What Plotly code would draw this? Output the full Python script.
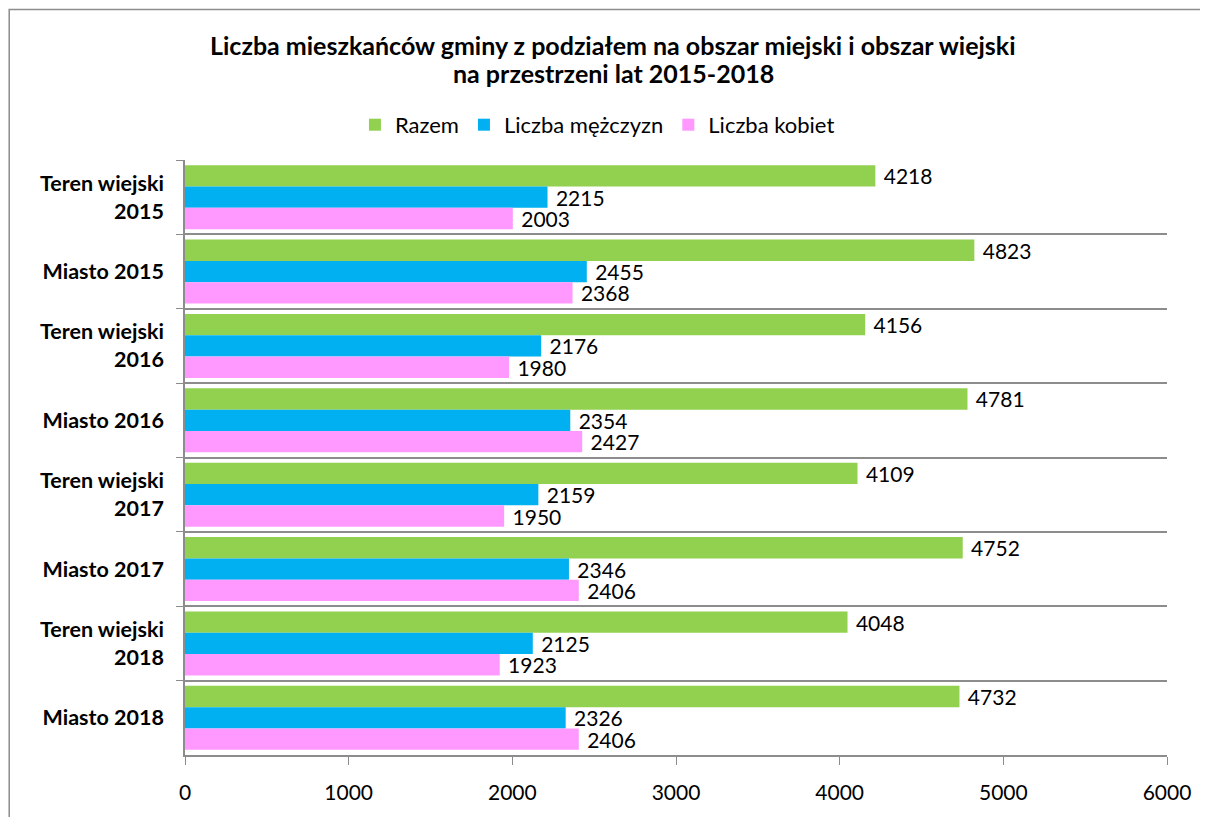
import plotly.graph_objects as go

categories = ["Teren wiejski<br>2015", "Miasto 2015", "Teren wiejski<br>2016", "Miasto 2016",
              "Teren wiejski<br>2017", "Miasto 2017", "Teren wiejski<br>2018", "Miasto 2018"]
razem = [4218, 4823, 4156, 4781, 4109, 4752, 4048, 4732]
mezczyzni = [2215, 2455, 2176, 2354, 2159, 2346, 2125, 2326]
kobiety = [2003, 2368, 1980, 2427, 1950, 2406, 1923, 2406]

title_lines = ["Liczba mieszkańców gminy z podziałem na obszar miejski i obszar wiejski",
               "na przestrzeni lat 2015-2018"]

series = [
    ("Razem", razem, "#92D050"),
    ("Liczba mężczyzn", mezczyzni, "#00B0F0"),
    ("Liczba kobiet", kobiety, "#FF99FF"),
]

font = "Lato, 'Open Sans', sans-serif"
grey = "#8C8C8C"

fig = go.Figure()
for name, vals, col in series:
    fig.add_bar(
        y=categories, x=vals, name=name, orientation="h",
        marker=dict(color=col, line=dict(width=0)),
        text=["\u00a0" + str(v) for v in vals], textposition="outside",
        textfont=dict(size=21, color="black", family=font),
        constraintext="none", cliponaxis=False,
    )

# page has an 8px body margin, so the figure is a bit smaller than the window
fig.update_layout(
    width=1192, height=809,
    barmode="group", bargap=0.14, bargroupgap=0,
    paper_bgcolor="white", plot_bgcolor="white",
    margin=dict(l=177, r=33, t=152, b=62),
    font=dict(family=font, size=20, color="black"),
    legend=dict(
        orientation="h", x=0.42, xanchor="center", y=1.059, yanchor="middle",
        font=dict(size=22, family=font), itemwidth=30,
    ),
    showlegend=True,
)

for i, line in enumerate(title_lines):
    fig.add_annotation(
        text="<b>" + line + "</b>", xref="paper", yref="paper",
        x=0.436, y=1.193 - i * 0.047, xanchor="center", yanchor="middle",
        showarrow=False, font=dict(size=25, family=font, color="black"),
    )

fig.update_yaxes(
    type="category", autorange="reversed", tickson="boundaries",
    showgrid=True, gridcolor=grey, gridwidth=1.5,
    showline=True, linecolor=grey, linewidth=1.5,
    ticks="outside", ticklen=7, tickcolor=grey,
    tickfont=dict(size=21.5, family=font), ticklabelstandoff=15,
    tickprefix="<b>", ticksuffix="</b>", automargin=False,
)
fig.update_xaxes(
    range=[0, 6000], dtick=1000, showgrid=False, zeroline=False,
    showline=True, linecolor=grey, linewidth=1.5,
    ticks="outside", ticklen=8, tickcolor=grey,
    tickfont=dict(size=21, family=font), ticklabelstandoff=10, automargin=False,
)

# chart frame
fig.add_shape(type="rect", xref="paper", yref="paper",
              x0=-0.179, x1=1.2, y0=-0.3, y1=1.253,
              line=dict(color=grey, width=1.5), layer="below")

fig.write_html("out.html", config={"displayModeBar": False})
